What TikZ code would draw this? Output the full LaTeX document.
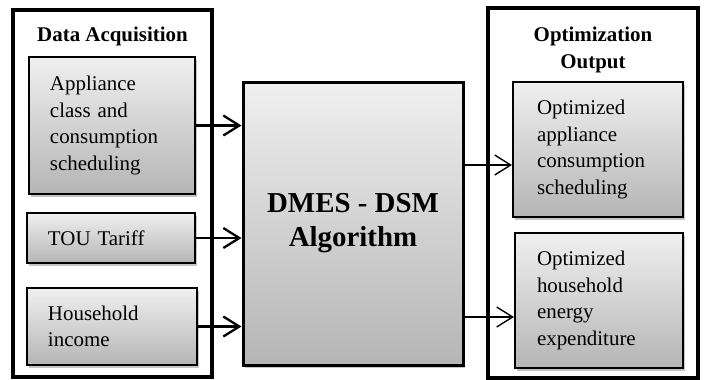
\documentclass[tikz,border=0pt]{standalone}
\usepackage{fontspec}
\setmainfont{Liberation Serif}
\usetikzlibrary{arrows.meta,shadows,calc,positioning}
\tikzstyle{panel}=[draw, line width=3.5bp, fill=white]
\tikzstyle{infobox}=[draw, line width=2bp, top color=gray!12, bottom color=gray!58, drop shadow={shadow xshift=2bp, shadow yshift=-2.5bp, fill=black!50, opacity=0.45}, align=left, font=\fontsize{21}{26.7}\selectfont]
\tikzstyle{heading}=[font=\bfseries\fontsize{21}{26.3}\selectfont, align=center]
\tikzstyle{inarrow}=[line width=2.3bp, -{Straight Barb[length=16bp,width=20bp]}]
\tikzstyle{outarrow}=[line width=1.4bp, -{Straight Barb[length=16bp,width=20bp]}]

\begin{document}
\begin{tikzpicture}[x=1bp, y=-1bp]
    \useasboundingbox (0,0) rectangle (706,379);
    % Input side
    \node[panel, minimum width=199bp, minimum height=367bp] (acq) at (112.5,193.5) {};
    \node[heading, anchor=base] (acqtitle) at (112.5,41.7) {Data Acquisition};
    \node[infobox, minimum width=166bp, minimum height=137bp, text width=124bp] (appl) at (112,125.5) {Appliance\\class and\\consumption\\scheduling};
    \node[infobox, minimum width=168bp, minimum height=50bp, text width=126bp] (tou) at (111,238) {TOU Tariff};
    \node[infobox, minimum width=170bp, minimum height=77bp, text width=128bp] (income) at (112,326.5) {Household\\income};

    % Algorithm block
    \node[infobox, line width=3bp, minimum width=220bp, minimum height=283bp, align=center, font=\bfseries\fontsize{29}{34}\selectfont] (algo) at (353,223.5) {DMES - DSM\\Algorithm};

    % Output side
    \node[panel, minimum width=210bp, minimum height=370bp] (out) at (593,193) {};
    \node[heading, anchor=base] (outtitle) at (593,68) {Optimization\\Output};
    \node[infobox, minimum width=170bp, minimum height=135bp, text width=122bp] (sched) at (598,149.5) {Optimized\\appliance\\consumption\\scheduling};
    \node[infobox, minimum width=168bp, minimum height=135bp, text width=124bp] (cost) at (599,300.5) {Optimized\\household\\energy\\expenditure};

    \draw[inarrow] (appl.east) -- (appl.east -| algo.west);
    \draw[inarrow] (tou.east) -- (tou.east -| algo.west);
    \draw[inarrow] (income.east) -- (income.east -| algo.west);

    \coordinate (schedin) at ([yshift=-15.5bp]sched.west);
    \coordinate (costin) at ([yshift=-16.5bp]cost.west);
    \draw[outarrow] (algo.east |- schedin) -- (schedin);
    \draw[outarrow] (algo.east |- costin) -- (costin);
\end{tikzpicture}
\end{document}
